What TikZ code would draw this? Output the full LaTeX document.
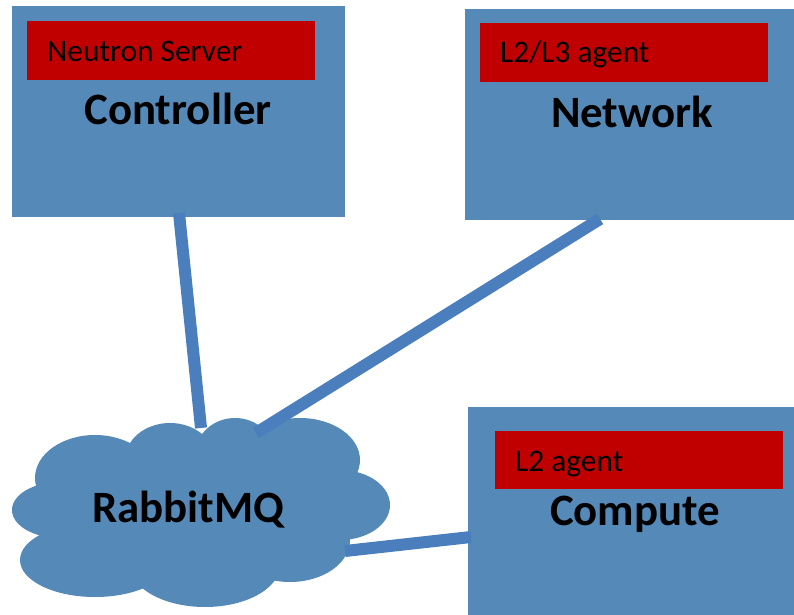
\documentclass[tikz,border=0pt]{standalone}
\usepackage{fontspec}
\setmainfont{Carlito}
\definecolor{boxblue}{HTML}{5589B8}
\definecolor{lineblue}{HTML}{4A7EBD}
\definecolor{agentred}{HTML}{C00000}
\begin{document}
\begin{tikzpicture}[x=1bp,y=-1bp,
  hostbox/.style={fill=boxblue, draw=none, inner sep=0pt, anchor=north west},
  agentbox/.style={fill=agentred, draw=none, inner sep=0pt, anchor=north west},
  title/.style={font=\fontsize{45}{54}\selectfont\bfseries, anchor=base, inner sep=0pt},
  agenttext/.style={font=\fontsize{31.5}{38}\selectfont, anchor=base west, inner sep=0pt},
  link/.style={draw=lineblue, line width=12bp}
]
\useasboundingbox (0,0) rectangle (794,615);

% Controller
\node[hostbox, minimum width=333bp, minimum height=211bp] (ctrl) at (12,6) {};
\node[agentbox, minimum width=288bp, minimum height=59bp] (ctrlag) at (27,21) {};
\node[agenttext] (ctrlagt) at (47,62) {Neutron Server};
\node[title] (ctrlt) at (178,125) {Controller};

% Network
\node[hostbox, minimum width=329bp, minimum height=211bp] (net) at (465,9) {};
\node[agentbox, minimum width=288bp, minimum height=59bp] (netag) at (480,23) {};
\node[agenttext] (netagt) at (500,63) {L2/L3 agent};
\node[title] (nett) at (632,128) {Network};

% Compute
\node[hostbox, minimum width=326bp, minimum height=208bp] (comp) at (468,407) {};
\node[agentbox, minimum width=288bp, minimum height=58bp] (compag) at (495,431) {};
\node[agenttext] (compagt) at (515,471) {L2 agent};
\node[title] (compt) at (635,525) {Compute};

% Cloud
\begin{scope}[fill=boxblue]
\fill (200,515) ellipse [x radius=150bp, y radius=65bp];
\fill (60,510) ellipse [x radius=48bp, y radius=28bp];
\fill (95,560) ellipse [x radius=75bp, y radius=37bp];
\fill (205,565) ellipse [x radius=75bp, y radius=42bp];
\fill (290,540) ellipse [x radius=60bp, y radius=42bp];
\fill (340,505) ellipse [x radius=50bp, y radius=35bp];
\fill (300,460) ellipse [x radius=60bp, y radius=42bp];
\fill (235,455) ellipse [x radius=40bp, y radius=37bp];
\fill (170,460) ellipse [x radius=45bp, y radius=37bp];
\fill (95,478) ellipse [x radius=60bp, y radius=43bp];
\end{scope}
\node[title] (mq) at (188,522) {RabbitMQ};

% Connectors
\coordinate (c1) at (179,213);
\coordinate (m1) at (201,428);
\coordinate (c2) at (600,219);
\coordinate (m2) at (256,433);
\coordinate (c3) at (471,537);
\coordinate (m3) at (345,551);
\draw[link] (c1) -- (m1);
\draw[link] (c2) -- (m2);
\draw[link] (m3) -- (c3);
\end{tikzpicture}
\end{document}
